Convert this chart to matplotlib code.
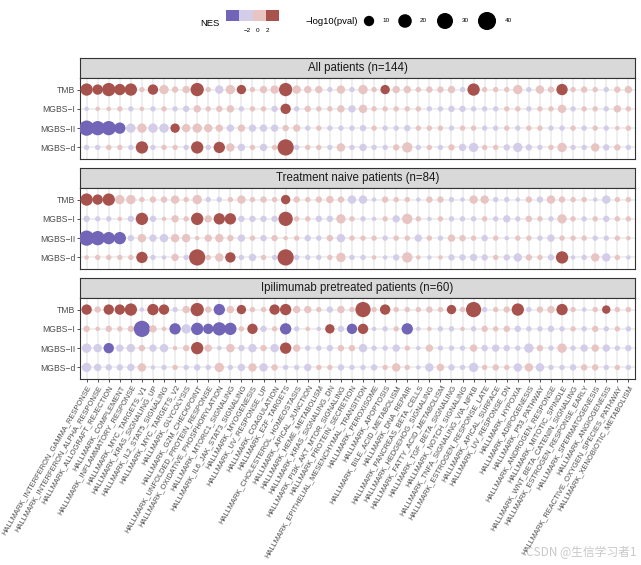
import numpy as np
import matplotlib.pyplot as plt
from matplotlib.colors import ListedColormap, BoundaryNorm
from matplotlib.patches import Rectangle

plt.rcParams['font.family'] = ['Liberation Sans', 'DejaVu Sans']

pathways = [
    "HALLMARK_INTERFERON_GAMMA_RESPONSE", "HALLMARK_INTERFERON_ALPHA_RESPONSE",
    "HALLMARK_ALLOGRAFT_REJECTION", "HALLMARK_COMPLEMENT",
    "HALLMARK_INFLAMMATORY_RESPONSE", "HALLMARK_MYC_TARGETS_V1",
    "HALLMARK_KRAS_SIGNALING_UP", "HALLMARK_IL2_STAT5_SIGNALING",
    "HALLMARK_MYC_TARGETS_V2", "HALLMARK_GLYCOLYSIS",
    "HALLMARK_G2M_CHECKPOINT", "HALLMARK_UNFOLDED_PROTEIN_RESPONSE",
    "HALLMARK_OXIDATIVE_PHOSPHORYLATION", "HALLMARK_MTORC1_SIGNALING",
    "HALLMARK_IL6_JAK_STAT3_SIGNALING", "HALLMARK_MYOGENESIS",
    "HALLMARK_UV_RESPONSE_UP", "HALLMARK_COAGULATION",
    "HALLMARK_E2F_TARGETS", "HALLMARK_CHOLESTEROL_HOMEOSTASIS",
    "HALLMARK_APICAL_JUNCTION", "HALLMARK_HEME_METABOLISM",
    "HALLMARK_KRAS_SIGNALING_DN", "HALLMARK_PI3K_AKT_MTOR_SIGNALING",
    "HALLMARK_PROTEIN_SECRETION", "HALLMARK_EPITHELIAL_MESENCHYMAL_TRANSITION",
    "HALLMARK_PEROXISOME", "HALLMARK_APOPTOSIS",
    "HALLMARK_BILE_ACID_METABOLISM", "HALLMARK_DNA_REPAIR",
    "HALLMARK_PANCREAS_BETA_CELLS", "HALLMARK_HEDGEHOG_SIGNALING",
    "HALLMARK_FATTY_ACID_METABOLISM", "HALLMARK_TGF_BETA_SIGNALING",
    "HALLMARK_NOTCH_SIGNALING", "HALLMARK_TNFA_SIGNALING_VIA_NFKB",
    "HALLMARK_ESTROGEN_RESPONSE_LATE", "HALLMARK_APICAL_SURFACE",
    "HALLMARK_UV_RESPONSE_DN", "HALLMARK_HYPOXIA",
    "HALLMARK_ADIPOGENESIS", "HALLMARK_P53_PATHWAY",
    "HALLMARK_ANDROGEN_RESPONSE", "HALLMARK_MITOTIC_SPINDLE",
    "HALLMARK_WNT_BETA_CATENIN_SIGNALING", "HALLMARK_ESTROGEN_RESPONSE_EARLY",
    "HALLMARK_SPERMATOGENESIS", "HALLMARK_ANGIOGENESIS",
    "HALLMARK_REACTIVE_OXYGEN_SPECIES_PATHWAY", "HALLMARK_XENOBIOTIC_METABOLISM",
]
signatures = ["TMB", "MGBS\u2212I", "MGBS\u2212II", "MGBS\u2212d"]
titles = ["All patients (n=144)", "Treatment naive patients (n=84)",
          "Ipilimumab pretreated patients (n=60)"]

# ---- All patients ----
all_tmb_nes = [2.5, 2.5, 2.5, 2.5, 2.5, 1.2, 2.5, 1.2, 1.2, 1.2,
               2.5, 1.2, -1.2, 1.2, 2.5, 1.2, 1.2, 1.2, 2.5, 1.2,
               1.2, 1.2, -1.2, 1.2, -1.2, 1.2, 1.2, 2.5, 1.2, 1.2,
               1.2, 1.2, 1.2, 1.2, -1.2, 2.5, 1.2, 1.2, 1.2, 1.2,
               -1.2, 1.2, 1.2, 2.5, 1.2, 1.2, 1.2, -1.2, 1.2, 1.2]
all_tmb_logp = [15.7, 10, 19, 12.7, 15.7, 1.3, 10, 7.6, 2.4, 3.8,
                19, 1.3, 5.6, 7.6, 7.6, 1.3, 3.8, 5.6, 19, 5.6,
                3.8, 3.8, 1.3, 5.6, 1.3, 7.6, 1.3, 7.6, 3.8, 3.8,
                1.3, 2.4, 2.4, 3.8, 1.3, 15.7, 1.3, 1.3, 1.3, 7.6,
                1.3, 5.6, 2.4, 12.7, 1.3, 2.4, 1.3, 1.3, 2.4, 3.8]
all_m1_nes = [-1.2, 1.2, 1.2, 1.2, -1.2, 1.2, -1.2, 1.2, -1.2, -1.2,
              1.2, 1.2, 1.2, 1.2, -1.2, 1.2, 1.2, -1.2, 2.5, -1.2,
              1.2, 1.2, 1.2, 1.2, -1.2, 1.2, 1.2, 1.2, 1.2, 1.2,
              1.2, -1.2, -1.2, -1.2, -1.2, -1.2, -1.2, -1.2, 1.2, 1.2,
              -1.2, 1.2, 1.2, 1.2, -1.2, 1.2, 1.2, -1.2, 1.2, 1.2]
all_m1_logp = [0.6, 0.6, 0.6, 1.3, 1.3, 0.6, 1.3, 1.3, 1.3, 2.4,
               3.8, 1.3, 2.4, 3.8, 1.3, 1.3, 1.3, 2.4, 10, 1.3,
               2.4, 1.3, 1.3, 3.8, 3.8, 5.6, 1.3, 1.3, 1.3, 1.3,
               1.3, 1.3, 1.3, 2.4, 2.4, 1.3, 1.3, 1.3, 1.3, 1.3,
               1.3, 1.3, 1.3, 5.6, 1.3, 1.3, 1.3, 1.3, 3.8, 1.3]
all_m2_nes = [-2.5, -2.5, -2.5, -2.5, -1.2, 1.2, -1.2, -1.2, 2.5, 1.2,
              1.2, 1.2, 1.2, -1.2, 1.2, -1.2, -1.2, -1.2, 1.2, 1.2,
              -1.2, 1.2, -1.2, -1.2, -1.2, -1.2, 1.2, -1.2, -1.2, -1.2,
              1.2, 1.2, 1.2, -1.2, 1.2, 1.2, -1.2, -1.2, 1.2, -1.2,
              1.2, 1.2, -1.2, -1.2, 1.2, -1.2, 1.2, -1.2, 1.2, 1.2]
all_m2_logp = [26.6, 22.7, 22.7, 12.7, 7.6, 7.6, 7.6, 7.6, 7.6, 5.6,
               7.6, 5.6, 3.8, 3.8, 3.8, 3.8, 3.8, 3.8, 2.4, 3.8,
               1.3, 1.3, 1.3, 1.3, 1.3, 2.4, 1.3, 1.3, 1.3, 2.4,
               1.3, 1.3, 1.3, 1.3, 1.3, 1.3, 1.3, 1.3, 1.3, 1.3,
               1.3, 1.3, 1.3, 1.3, 1.3, 1.3, 1.3, 1.3, 0.6, 1.3]
all_md_nes = [-1.2, -1.2, 1.2, 1.2, -1.2, 2.5, -1.2, 1.2, 1.2, -1.2,
              2.5, -1.2, 2.5, 1.2, -1.2, 1.2, -1.2, 1.2, 2.5, -1.2,
              1.2, 1.2, -1.2, 1.2, -1.2, -1.2, -1.2, -1.2, 1.2, 1.2,
              -1.2, 1.2, -1.2, 1.2, -1.2, -1.2, 1.2, 1.2, -1.2, -1.2,
              -1.2, -1.2, 1.2, 1.2, -1.2, -1.2, 1.2, -1.2, 1.2, -1.2]
all_md_logp = [1.3, 1.3, 1.3, 1.3, 1.3, 15.7, 1.3, 1.3, 1.3, 1.3,
               15.7, 1.3, 12.7, 5.6, 3.8, 1.3, 3.8, 1.3, 31, 1.3,
               1.3, 1.3, 1.3, 5.6, 1.3, 3.8, 1.3, 1.3, 2.4, 10,
               1.3, 1.3, 1.3, 2.4, 3.8, 7.6, 1.3, 1.3, 2.4, 7.6,
               2.4, 1.3, 1.3, 7.6, 1.3, 1.3, 5.6, 2.4, 2.4, 1.3]

# ---- Treatment naive ----
naive_tmb_nes = [2.5, 2.5, 2.5, 1.2, 1.2, 1.2, 1.2, 1.2, 1.2, 1.2,
                 1.2, -1.2, -1.2, 1.2, 1.2, 1.2, 1.2, 1.2, 2.5, 1.2,
                 1.2, 1.2, 1.2, 1.2, -1.2, -1.2, -1.2, 1.2, 1.2, 1.2,
                 -1.2, 1.2, 1.2, -1.2, -1.2, 1.2, 1.2, -1.2, -1.2, -1.2,
                 1.2, -1.2, 1.2, 1.2, 1.2, 1.2, -1.2, -1.2, 1.2, 1.2]
naive_tmb_logp = [15.7, 10, 15.7, 7.6, 7.6, 1.3, 2.4, 2.4, 5.6, 1.3,
                  7.6, 1.3, 1.3, 1.3, 5.6, 1.3, 2.4, 1.3, 7.6, 2.4,
                  1.3, 2.4, 3.8, 2.4, 5.6, 5.6, 0.6, 2.4, 1.3, 1.3,
                  0.6, 2.4, 2.4, 1.3, 0.6, 5.6, 5.6, 1.3, 1.3, 0.6,
                  2.4, 2.4, 5.6, 2.4, 1.3, 1.3, 0.6, 5.6, 1.3, 1.3]
naive_m1_nes = [-1.2, -1.2, -1.2, 1.2, -1.2, 2.5, -1.2, 1.2, 1.2, 1.2,
                2.5, 1.2, 2.5, 2.5, -1.2, -1.2, -1.2, -1.2, 2.5, 1.2,
                1.2, -1.2, -1.2, 1.2, 1.2, -1.2, -1.2, 1.2, -1.2, 1.2,
                1.2, -1.2, 1.2, -1.2, -1.2, -1.2, 1.2, -1.2, -1.2, -1.2,
                1.2, 1.2, -1.2, 1.2, 1.2, -1.2, 1.2, -1.2, 1.2, 1.2]
naive_m1_logp = [2.4, 1.3, 1.3, 0.6, 2.4, 15.7, 2.4, 0.6, 3.8, 1.3,
                 15.7, 3.8, 12.7, 12.7, 2.4, 2.4, 2.4, 2.4, 22.7, 1.3,
                 1.3, 2.4, 2.4, 7.6, 1.3, 1.3, 0.6, 1.3, 3.8, 10,
                 1.3, 0.6, 1.3, 1.3, 1.3, 1.3, 1.3, 1.3, 3.8, 1.3,
                 2.4, 1.3, 1.3, 7.6, 1.3, 1.3, 1.3, 2.4, 1.3, 1.3]
naive_m2_nes = [-2.5, -2.5, -2.5, -2.5, -1.2, 1.2, -1.2, -1.2, 1.2, 1.2,
                1.2, 1.2, 1.2, 1.2, -1.2, 1.2, -1.2, 1.2, 1.2, 1.2,
                -1.2, -1.2, 1.2, -1.2, 1.2, 1.2, 1.2, -1.2, 1.2, 1.2,
                -1.2, 1.2, -1.2, 1.2, 1.2, 1.2, -1.2, 1.2, -1.2, 1.2,
                1.2, -1.2, -1.2, 1.2, 1.2, 1.2, -1.2, -1.2, 1.2, 1.2]
naive_m2_logp = [26.6, 22.7, 15.7, 15.7, 2.4, 5.6, 3.8, 5.6, 5.6, 5.6,
                 0.6, 3.8, 5.6, 2.4, 3.8, 1.3, 2.4, 2.4, 0.6, 1.3,
                 2.4, 1.3, 2.4, 5.6, 1.3, 1.3, 1.3, 1.3, 1.3, 1.3,
                 3.8, 1.3, 1.3, 3.8, 2.4, 1.3, 2.4, 1.3, 0.6, 1.3,
                 1.3, 1.3, 3.8, 1.3, 1.3, 1.3, 1.3, 1.3, 1.3, 0.6]
naive_md_nes = [1.2, 1.2, 1.2, 1.2, 1.2, 2.5, -1.2, -1.2, 1.2, -1.2,
                2.5, 1.2, 1.2, 2.5, -1.2, -1.2, 1.2, -1.2, 2.5, -1.2,
                -1.2, -1.2, 1.2, 1.2, -1.2, -1.2, 1.2, -1.2, -1.2, 1.2,
                1.2, -1.2, 1.2, -1.2, -1.2, -1.2, -1.2, 1.2, -1.2, -1.2,
                1.2, 1.2, -1.2, 2.5, -1.2, -1.2, 1.2, -1.2, 1.2, -1.2]
naive_md_logp = [0.6, 1.3, 1.3, 1.3, 1.3, 12.7, 1.3, 0.6, 3.8, 1.3,
                 31, 1.3, 5.6, 10, 1.3, 3.8, 1.3, 1.3, 31, 1.3,
                 1.3, 1.3, 1.3, 7.6, 1.3, 1.3, 0.6, 0.6, 2.4, 10,
                 0.6, 0.6, 0.6, 2.4, 2.4, 3.8, 2.4, 1.3, 2.4, 5.6,
                 2.4, 1.3, 2.4, 15.7, 0.6, 1.3, 5.6, 5.6, 1.3, 0.6]

# ---- Ipilimumab pretreated ----
ipi_tmb_nes = [2.5, 1.2, 2.5, 2.5, 2.5, -1.2, 2.5, 2.5, -1.2, 1.2,
               2.5, 1.2, -2.5, 1.2, 2.5, 1.2, 1.2, 2.5, 2.5, 1.2,
               1.2, 1.2, -1.2, 1.2, 1.2, 2.5, 1.2, 2.5, 1.2, 1.2,
               1.2, 1.2, 1.2, 2.5, 1.2, 2.5, -1.2, 1.2, 1.2, 2.5,
               -1.2, 1.2, 1.2, 2.5, 1.2, -1.2, 1.2, 2.5, 1.2, 1.2]
ipi_tmb_logp = [10, 2.4, 10, 10, 15.7, 0.6, 12.7, 10, 1.3, 3.8,
                19, 2.4, 12.7, 3.8, 7.6, 1.3, 1.3, 10, 12.7, 3.8,
                3.8, 1.3, 2.4, 3.8, 1.3, 26.6, 1.3, 10, 1.3, 1.3,
                1.3, 2.4, 1.3, 7.6, 1.3, 26.6, 1.3, 1.3, 2.4, 15.7,
                1.3, 2.4, 3.8, 12.7, 1.3, 0.6, 1.3, 5.6, 1.3, 1.3]
ipi_m1_nes = [1.2, 1.2, 1.2, 1.2, 1.2, -2.5, 1.2, 1.2, -2.5, -1.2,
              -2.5, -2.5, -2.5, -2.5, 1.2, 2.5, -1.2, 1.2, -2.5, -1.2,
              1.2, -1.2, 2.5, -1.2, -2.5, 2.5, -1.2, -1.2, 1.2, -2.5,
              -1.2, 1.2, -1.2, -1.2, 1.2, -1.2, 1.2, 1.2, 1.2, -1.2,
              -1.2, -1.2, -1.2, -1.2, 1.2, -1.2, 1.2, -1.2, 1.2, -1.2]
ipi_m1_logp = [2.4, 0.6, 2.4, 1.3, 2.4, 31, 3.8, 0.6, 12.7, 7.6,
               15.7, 10, 19, 15.7, 1.3, 10, 2.4, 1.3, 12.7, 1.3,
               0.6, 0.6, 7.6, 2.4, 10, 10, 0.6, 1.3, 1.3, 12.7,
               0.6, 0.6, 1.3, 1.3, 0.6, 1.3, 2.4, 1.3, 2.4, 2.4,
               1.3, 1.3, 2.4, 1.3, 1.3, 1.3, 2.4, 1.3, 1.3, 1.3]
ipi_m2_nes = [-1.2, -1.2, -2.5, -1.2, -1.2, 1.2, -1.2, -1.2, 1.2, 1.2,
              2.5, 1.2, -1.2, 1.2, -1.2, -1.2, 1.2, -1.2, 2.5, 1.2,
              -1.2, -1.2, -1.2, 1.2, 1.2, -1.2, -1.2, -1.2, -1.2, 1.2,
              -1.2, 1.2, -1.2, -1.2, -1.2, 1.2, -1.2, -1.2, -1.2, -1.2,
              -1.2, 1.2, -1.2, 1.2, -1.2, -1.2, 1.2, -1.2, -1.2, -1.2]
ipi_m2_logp = [7.6, 5.6, 10, 3.8, 5.6, 2.4, 3.8, 5.6, 0.6, 2.4,
               15.7, 3.8, 0.6, 5.6, 2.4, 5.6, 2.4, 5.6, 12.7, 3.8,
               1.3, 1.3, 2.4, 2.4, 2.4, 5.6, 1.3, 1.3, 3.8, 1.3,
               0.6, 3.8, 1.3, 1.3, 1.3, 3.8, 2.4, 3.8, 2.4, 1.3,
               7.6, 2.4, 1.3, 7.6, 1.3, 3.8, 3.8, 3.8, 1.3, 2.4]
ipi_md_nes = [-1.2, -1.2, -1.2, -1.2, -1.2, 1.2, -1.2, -1.2, 1.2, -1.2,
              -1.2, -1.2, 1.2, -1.2, -1.2, 1.2, -1.2, 1.2, -1.2, -1.2,
              -1.2, 1.2, 1.2, -1.2, -1.2, -1.2, -1.2, 1.2, 1.2, 1.2,
              -1.2, -1.2, 1.2, -1.2, -1.2, -1.2, 1.2, 1.2, 1.2, -1.2,
              1.2, -1.2, -1.2, -1.2, -1.2, 1.2, 1.2, -1.2, 1.2, -1.2]
ipi_md_logp = [7.6, 3.8, 2.4, 2.4, 3.8, 5.6, 0.6, 1.3, 1.3, 1.3,
               2.4, 1.3, 7.6, 1.3, 3.8, 5.6, 5.6, 2.4, 1.3, 1.3,
               3.8, 1.3, 1.3, 2.4, 1.3, 1.3, 2.4, 1.3, 5.6, 1.3,
               0.6, 5.6, 3.8, 2.4, 1.3, 7.6, 1.3, 2.4, 1.3, 5.6,
               5.6, 5.6, 1.3, 1.3, 2.4, 2.4, 2.4, 1.3, 1.3, 1.3]

panel_nes = [[all_tmb_nes, all_m1_nes, all_m2_nes, all_md_nes],
             [naive_tmb_nes, naive_m1_nes, naive_m2_nes, naive_md_nes],
             [ipi_tmb_nes, ipi_m1_nes, ipi_m2_nes, ipi_md_nes]]
panel_logp = [[all_tmb_logp, all_m1_logp, all_m2_logp, all_md_logp],
              [naive_tmb_logp, naive_m1_logp, naive_m2_logp, naive_md_logp],
              [ipi_tmb_logp, ipi_m1_logp, ipi_m2_logp, ipi_md_logp]]

legend_sizes = [10, 20, 30, 40]

# binned NES colour scale
nes_colors = ["#7264B6", "#D3CDE9", "#E8C4C3", "#A8524E"]
cmap = ListedColormap(nes_colors)
norm = BoundaryNorm([-10, -2, 0, 2, 10], cmap.N)

W, H = 641, 565
fig = plt.figure(figsize=(W / 100, H / 100), dpi=100)


def px_axes(x0, y0, w, h):
    return fig.add_axes([x0 / W, 1 - (y0 + h) / H, w / W, h / H])


def dot_size(v):
    d = 2.45 * np.sqrt(np.asarray(v, dtype=float)) + 2.6
    return (d * 0.72) ** 2


x = np.arange(len(pathways))
strip_tops = [58, 168, 278]
for k in range(3):
    top = strip_tops[k]
    sax = px_axes(80, top, 555, 20)
    sax.set_facecolor("#D9D9D9")
    sax.set_xticks([])
    sax.set_yticks([])
    for s in sax.spines.values():
        s.set_color("#333333")
        s.set_linewidth(0.8)
    sax.text(0.5, 0.5, titles[k], ha="center", va="center", fontsize=8.3,
             color="#1A1A1A", transform=sax.transAxes)

    ax = px_axes(80, top + 20, 555, 81)
    for r in range(4):
        ax.scatter(x, np.full(len(x), r), s=dot_size(panel_logp[k][r]),
                   c=panel_nes[k][r], cmap=cmap, norm=norm,
                   edgecolors="none", zorder=3)
    ax.set_xlim(-0.6, len(x) - 0.4)
    ax.set_ylim(3.6, -0.6)
    ax.set_xticks(x)
    ax.set_yticks(range(4))
    ax.set_yticklabels(signatures)
    ax.grid(True, color="#EBEBEB", lw=1.1)
    ax.set_axisbelow(True)
    for s in ax.spines.values():
        s.set_color("#333333")
        s.set_linewidth(0.8)
    ax.tick_params(axis="y", length=2, width=0.6, color="#333333",
                   labelsize=6.2, labelcolor="#4D4D4D", pad=1.5)
    if k < 2:
        ax.tick_params(axis="x", length=0, labelbottom=False)
    else:
        ax.set_xticklabels(pathways, rotation=60, ha="right",
                           rotation_mode="anchor", fontsize=5.4, color="#4D4D4D")
        ax.tick_params(axis="x", length=2, width=0.6, color="#333333", pad=1.5)

# legends on top
lax = px_axes(0, 0, W, 45)
lax.set_xlim(0, W)
lax.set_ylim(45, 0)
lax.axis("off")
lax.text(210, 24, "NES", ha="center", va="center", fontsize=6.8)
for i, col in enumerate(nes_colors):
    lax.add_patch(Rectangle((226 + i * 13.25, 10), 13.25, 11, color=col, lw=0))
for lab, xp in zip(["\u22122", "0", "2"], [247, 258, 267.5]):
    lax.text(xp, 30, lab, ha="center", va="center", fontsize=4.6)
lax.text(306, 21, "\u2212log10(pval)", ha="left", va="center", fontsize=6.8)
for v, cx, tx in zip(legend_sizes, [369, 405, 445, 487], [386, 423, 465, 508]):
    lax.scatter([cx], [21], s=dot_size(v), color="black", edgecolors="none")
    lax.text(tx, 21, str(v), ha="center", va="center", fontsize=4.6)

fig.text(637 / W, 1 - 553 / H, "CSDN @生信学习者1", ha="right", va="center",
         fontsize=8.5, color="#C8C8C8",
         family=["Noto Sans CJK SC", "DejaVu Sans"])

fig.savefig("out.png", dpi=100)
